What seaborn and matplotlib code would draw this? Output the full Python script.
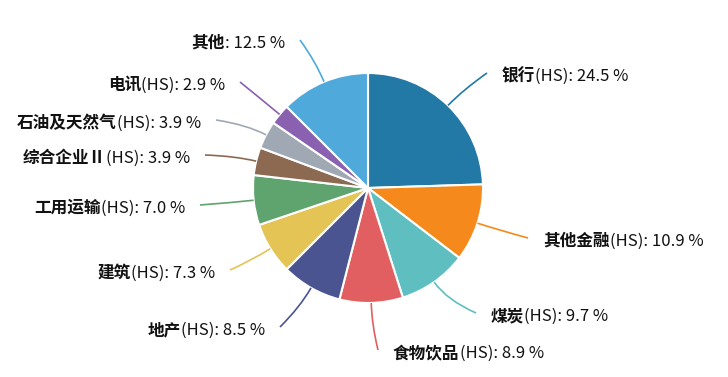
import numpy as np
import matplotlib
matplotlib.use("Agg")
import matplotlib.pyplot as plt
from matplotlib.path import Path
from matplotlib.patches import PathPatch
import seaborn as sns

# -----------------------------------------------------
# DATA
# -----------------------------------------------------
sectors = ["银行(HS)", "其他金融(HS)", "煤炭(HS)", "食物饮品(HS)", "地产(HS)",
           "建筑(HS)", "工用运输(HS)", "综合企业Ⅱ(HS)", "石油及天然气(HS)",
           "电讯(HS)", "其他"]
shares = [24.5, 10.9, 9.7, 8.9, 8.5, 7.3, 7.0, 3.9, 3.9, 2.9, 12.5]
colors = ["#2279a5", "#f5891c", "#5fbfc0", "#e15f60", "#4a5490", "#e3c454",
          "#5fa36f", "#8c6a51", "#a0a9b3", "#8a60b0", "#4fa9db"]

# label anchor points (pixel layout, y measured from top)
label_pos = [(487, 73), (528, 238), (476, 313), (378, 350), (280, 327),
             (230, 270), (200, 205), (205, 155), (216, 120), (240, 82), (300, 40)]

# -----------------------------------------------------
# FIGURE
# -----------------------------------------------------
sns.set_theme(style="white")
plt.rcParams["font.family"] = ["Noto Sans CJK SC", "DejaVu Sans"]

W, H = 728, 377
fig = plt.figure(figsize=(W / 100, H / 100), dpi=100)
ax = fig.add_axes([0, 0, 1, 1])

cx, cy, r = 368, H - 188, 115

wedges, _ = ax.pie(shares, colors=colors, startangle=90, counterclock=False,
                   center=(cx, cy), radius=r, frame=True,
                   wedgeprops=dict(edgecolor="white", linewidth=1.5))
ax.set_xlim(0, W)
ax.set_ylim(0, H)
ax.set_aspect("equal")
ax.axis("off")

renderer = fig.canvas.get_renderer()

# leader lines + labels (chinese part bold, rest regular)
for w, name, val, col, (lx, ly) in zip(wedges, sectors, shares, colors, label_pos):
    ang = np.deg2rad((w.theta1 + w.theta2) / 2)
    x0, y0 = cx + r * np.cos(ang), cy + r * np.sin(ang)
    x1, y1 = cx + (r + 22) * np.cos(ang), cy + (r + 22) * np.sin(ang)
    x2, y2 = lx, H - ly
    path = Path([(x0, y0), (x1, y1), (x2, y2)],
                [Path.MOVETO, Path.CURVE3, Path.CURVE3])
    ax.add_patch(PathPatch(path, fill=False, edgecolor=col, linewidth=1.2))

    cn = name.split("(")[0]
    rest = name[len(cn):] + f": {val} %"
    right = np.cos(ang) >= 0
    tx = x2 + (15 if right else -15)
    ty = y2 - 3
    t_name = ax.text(tx, ty, cn, ha="left", va="center",
                     fontsize=12, color="#111111", fontweight="bold")
    t_val = ax.text(tx, ty, rest, ha="left", va="center",
                    fontsize=12, color="#111111", fontweight="medium")
    wn = t_name.get_window_extent(renderer).width
    wv = t_val.get_window_extent(renderer).width
    start = tx if right else tx - wn - wv
    t_name.set_x(start)
    t_val.set_x(start + wn)

fig.savefig("out.png", dpi=100)
